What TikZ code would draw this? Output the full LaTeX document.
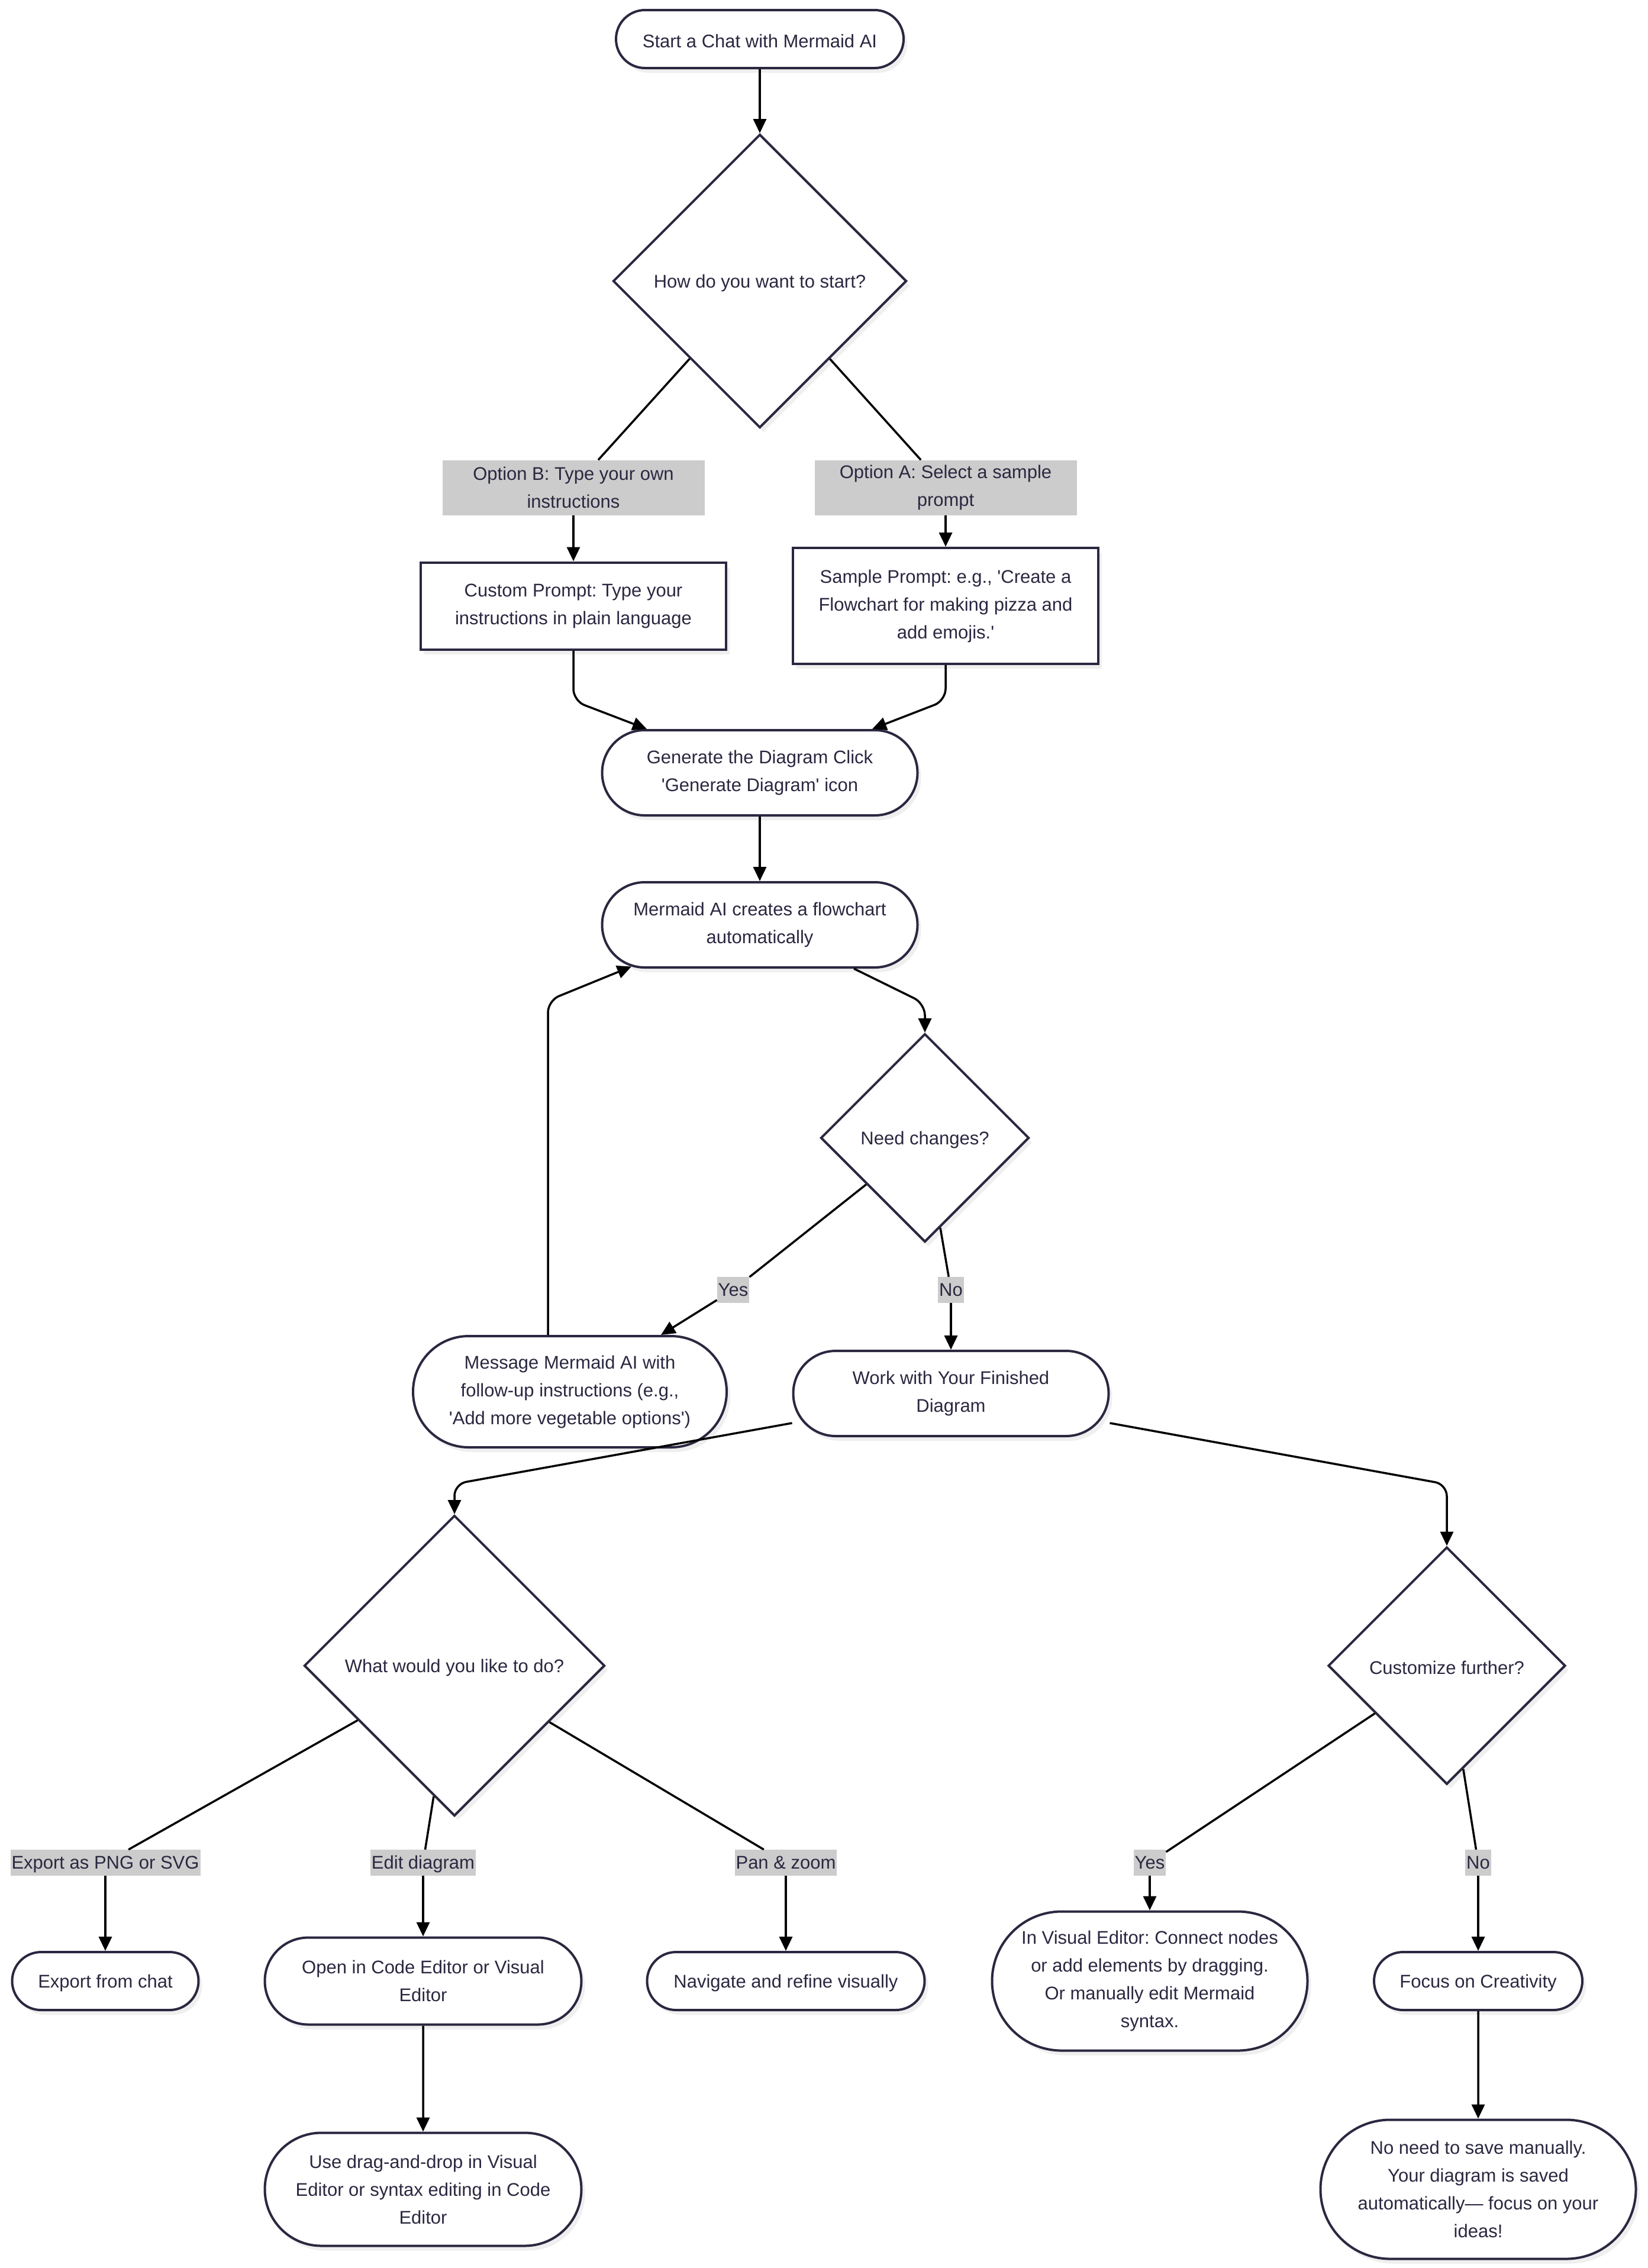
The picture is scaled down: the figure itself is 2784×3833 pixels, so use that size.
\documentclass[tikz,border=0pt]{standalone}
\usepackage{fontspec}
\setmainfont{Liberation Sans}
\usetikzlibrary{positioning,shapes.geometric,shapes.misc,shadows,arrows.meta}
\definecolor{inkc}{HTML}{2A2840}
\definecolor{lblgray}{HTML}{CCCCCC}
\definecolor{shadowc}{HTML}{EFEFEF}
\tikzset{
	nodebase/.style={draw=inkc, line width=4pt, fill=white, text=inkc, align=center,
		font=\fontsize{31}{47}\selectfont, execute at begin node={\rule{0pt}{30pt}},
		drop shadow={shadow xshift=6pt, shadow yshift=-8pt, fill=shadowc, opacity=1}},
	term/.style={nodebase, rounded rectangle, inner xsep=0pt, minimum width=533pt, minimum height=144pt},
	proc/.style={nodebase, rectangle, minimum width=516pt},
	choice/.style={nodebase, diamond, aspect=1, inner sep=0pt},
	lblbase/.style={fill=lblgray, text=inkc, align=center, font=\fontsize{31}{47}\selectfont},
	lbl/.style={lblbase, inner xsep=2pt, inner ysep=0pt, text height=32pt, text depth=12pt},
	lbltwo/.style={lblbase, inner sep=0pt, minimum width=443pt, minimum height=93pt, execute at begin node={\rule{0pt}{30pt}}},
	wire/.style={draw=black, line width=3.5pt},
	wirearr/.style={wire, -{Triangle[length=24pt, width=22pt]}},
}
\newcommand{\q}{\textquotesingle}
\frenchspacing

\begin{document}
\begin{tikzpicture}[on grid]
	\useasboundingbox[fill=white] (0,0) rectangle (2784pt,-3833pt);

	\node[term, minimum width=486pt, minimum height=98pt] (start) at (1284pt,-66pt) {Start a Chat with Mermaid AI};
	\node[choice, minimum size=496pt, below=409pt of start] (d1) {How do you want to start?};
	\node[lbltwo, below left=349pt and 315pt of d1] (optb) {Option B: Type your own\\instructions};
	\node[lbltwo, below right=349pt and 314pt of d1] (opta) {Option A: Select a sample\\prompt};
	\node[proc, minimum height=147pt, below=200pt of optb] (custom) {Custom Prompt: Type your\\instructions in plain language};
	\node[proc, minimum height=196pt, below=200pt of opta] (sample) {Sample Prompt: e.g., \q Create a\\Flowchart for making pizza and\\add emojis.\q};
	\node[term, below=831pt of d1] (gen) {Generate the Diagram Click\\\q Generate Diagram\q\ icon};
	\node[term, below=257pt of gen] (mer) {Mermaid AI creates a flowchart\\automatically};
	\node[choice, minimum size=352pt, below right=360pt and 279pt of mer] (d2) {Need changes?};
	\node[lbl, below left=257pt and 324pt of d2] (yes1) {Yes};
	\node[lbl, below right=257pt and 44pt of d2] (no1) {No};
	\node[term, minimum width=530pt, minimum height=188pt, below left=172pt and 276pt of yes1] (msg) {Message Mermaid AI with\\follow-up instructions (e.g.,\\\q Add more vegetable options\q)};
	\node[term, below=175pt of no1] (work) {Work with Your Finished\\Diagram};
	\node[choice, minimum size=508pt, below left=460pt and 839pt of work] (d3) {What would you like to do?};
	\node[choice, minimum size=401pt, below right=460pt and 838pt of work] (d4) {Customize further?};
	\node[lbl, below left=333pt and 590pt of d3] (lexp) {Export as PNG or SVG};
	\node[lbl, below left=333pt and 53pt of d3] (ledit) {Edit diagram};
	\node[lbl, below right=333pt and 560pt of d3] (lpan) {Pan \& zoom};
	\node[lbl, below left=333pt and 502pt of d4] (yes2) {Yes};
	\node[lbl, below right=333pt and 53pt of d4] (no2) {No};
	\node[term, minimum width=315pt, minimum height=98pt, below=200pt of lexp] (export) {Export from chat};
	\node[term, minimum width=535pt, minimum height=147pt, below=200pt of ledit] (open) {Open in Code Editor or Visual\\Editor};
	\node[term, minimum width=469pt, minimum height=98pt, below=200pt of lpan] (nav) {Navigate and refine visually};
	\node[term, minimum height=235pt, below=200pt of yes2] (vis) {In Visual Editor: Connect nodes\\or add elements by dragging.\\Or manually edit Mermaid\\syntax.};
	\node[term, minimum width=352pt, minimum height=98pt, below=200pt of no2] (focus) {Focus on Creativity};
	\node[term, minimum width=535pt, minimum height=191pt, below=352pt of open] (drag) {Use drag-and-drop in Visual\\Editor or syntax editing in Code\\Editor};
	\node[term, minimum height=235pt, below=352pt of focus] (save) {No need to save manually.\\Your diagram is saved\\automatically— focus on your\\ideas!};

	\draw[wirearr] (start) -- (d1);
	\draw[wire] (d1) -- (optb);
	\draw[wirearr] (optb) -- (custom);
	\draw[wire] (d1) -- (opta);
	\draw[wirearr] (opta) -- (sample);
	\draw[wirearr, rounded corners=20pt] (custom.south) -- ([yshift=-85pt]custom.south) -- ([xshift=-191pt]gen.north);
	\draw[wirearr, rounded corners=20pt] (sample.south) -- ([yshift=-60pt]sample.south) -- ([xshift=190pt]gen.north);
	\draw[wirearr] (gen) -- (mer);
	\draw[wirearr, rounded corners=20pt] ([xshift=159pt]mer.south) -- ([yshift=49pt]d2.north) -- (d2.north);
	\draw[wire] (d2) -- (yes1);
	\draw[wirearr] (yes1) -- (msg);
	\draw[wire] (d2) -- (no1);
	\draw[wirearr] (no1) -- (work);
	\draw[wirearr, rounded corners=20pt] ([xshift=-37pt]msg.north) -- ([xshift=-37pt, yshift=565pt]msg.north) -- (mer.198);
	\draw[wirearr, rounded corners=20pt] ([yshift=-50pt]work.west) -- ([yshift=51pt]d3.north) -- (d3.north);
	\draw[wirearr, rounded corners=20pt] ([yshift=-50pt]work.east) -- ([yshift=104pt]d4.north) -- (d4.north);
	\draw[wire] (d3) -- (lexp);
	\draw[wirearr] (lexp) -- (export);
	\draw[wire] (d3) -- (ledit);
	\draw[wirearr] (ledit) -- (open);
	\draw[wire] (d3) -- (lpan);
	\draw[wirearr] (lpan) -- (nav);
	\draw[wire] (d4) -- (yes2);
	\draw[wirearr] (yes2) -- (vis);
	\draw[wire] (d4) -- (no2);
	\draw[wirearr] (no2) -- (focus);
	\draw[wirearr] (open) -- (drag);
	\draw[wirearr] (focus) -- (save);
\end{tikzpicture}
\end{document}
